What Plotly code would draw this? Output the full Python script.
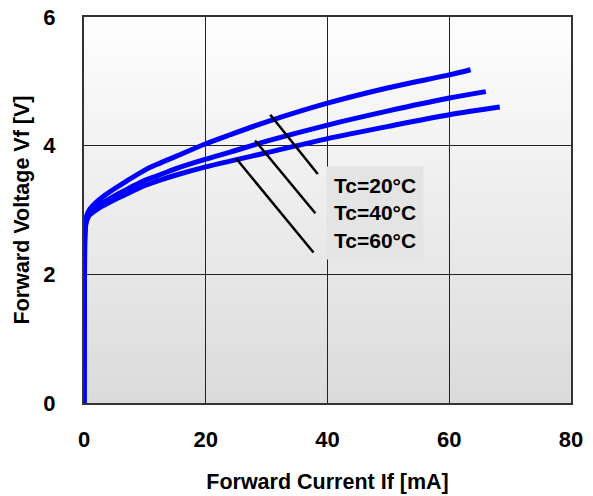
import plotly.graph_objects as go

# ---- data ----
if_20 = [0, 0.1, 0.2, 0.4, 0.7, 1, 2, 3, 5, 7, 10, 12, 15, 20, 24, 30, 40, 50, 60, 63.5]
vf_20 = [0, 2.5, 2.78, 2.9, 2.97, 3.02, 3.12, 3.20, 3.33, 3.45, 3.62, 3.71, 3.83, 4.03, 4.17,
         4.37, 4.66, 4.90, 5.10, 5.18]

if_40 = [0, 0.1, 0.2, 0.4, 0.7, 1, 2, 3, 5, 7, 10, 12, 15, 20, 24, 30, 40, 50, 60, 66]
vf_40 = [0, 2.45, 2.73, 2.85, 2.92, 2.97, 3.05, 3.11, 3.22, 3.32, 3.46, 3.53, 3.64, 3.79, 3.90,
         4.07, 4.32, 4.54, 4.74, 4.84]

if_60 = [0, 0.1, 0.2, 0.4, 0.7, 1, 2, 3, 5, 7, 10, 12, 15, 20, 24, 30, 40, 50, 60, 68.3]
vf_60 = [0, 2.4, 2.7, 2.82, 2.89, 2.93, 3.00, 3.06, 3.16, 3.25, 3.38, 3.45, 3.54, 3.67, 3.76,
         3.89, 4.11, 4.30, 4.48, 4.60]

labels = ["Tc=20°C", "Tc=40°C", "Tc=60°C"]
# leader lines: (x0, y0) on curve -> (x1, y1) near label
leader_x0 = [30.6, 28.1, 25.0]
leader_y0 = [4.48, 4.08, 3.80]
leader_x1 = [38.4, 38.0, 37.7]
leader_y1 = [3.56, 2.95, 2.34]

x_ticks = [0, 20, 40, 60, 80]
y_ticks = [0, 2, 4, 6]

FONT = "Liberation Sans, Arial, sans-serif"

fig = go.Figure()
for xs, ys, name in [(if_20, vf_20, labels[0]), (if_40, vf_40, labels[1]), (if_60, vf_60, labels[2])]:
    fig.add_trace(go.Scatter(x=xs, y=ys, mode="lines", name=name,
                             line=dict(color="#0000FF", width=5, shape="spline", smoothing=0.8)))

# gradient background (white -> light grey)
n = 60
for i in range(n):
    t = (i + 0.5) / n
    c = int(round(254 - (254 - 219) * t))
    fig.add_shape(type="rect", xref="x domain", yref="y domain",
                  x0=0, x1=1, y0=1 - (i + 1) / n, y1=1 - i / n + 0.002,
                  fillcolor=f"rgb({c},{c},{c})", line=dict(width=0), layer="below")

for x0, y0, x1, y1 in zip(leader_x0, leader_y0, leader_x1, leader_y1):
    fig.add_shape(type="line", xref="x", yref="y", x0=x0, y0=y0, x1=x1, y1=y1,
                  line=dict(color="black", width=2.5))

fig.add_annotation(x=39.8, y=3.68, xref="x", yref="y", xanchor="left", yanchor="top",
                   text="<br>".join(labels), showarrow=False, align="left",
                   bgcolor="#e4e4e4", borderpad=7,
                   font=dict(family=FONT, size=21, color="black", weight="bold"))

# the page adds an 8px body margin, so the figure is sized to fill the rest of the window
fig.update_layout(
    width=585, height=488,
    margin=dict(l=76, r=22, t=9, b=93, autoexpand=False),
    paper_bgcolor="white", plot_bgcolor="white",
    showlegend=False,
    font=dict(family=FONT, size=20, color="black", weight="bold"),
)
fig.update_xaxes(range=[0, 80], tickvals=x_ticks, showgrid=True, gridcolor="#222222", gridwidth=1,
                 showline=True, linecolor="#333333", linewidth=2, mirror=True, automargin=False,
                 ticks="", ticklabelstandoff=16, zeroline=False, ticklabeloverflow="allow",
                 tickfont=dict(family=FONT, size=22, weight="bold"),
                 title=dict(text="Forward Current If [mA]", standoff=23,
                            font=dict(family=FONT, size=21.5, weight="bold")))
fig.update_yaxes(range=[0, 6], tickvals=y_ticks, showgrid=True, gridcolor="#222222", gridwidth=1,
                 showline=True, linecolor="#333333", linewidth=2, mirror=True, automargin=False,
                 ticks="", ticklabelstandoff=22, zeroline=False, ticklabeloverflow="allow",
                 tickfont=dict(family=FONT, size=22, weight="bold"),
                 title=dict(text="Forward Voltage Vf [V]", standoff=8,
                            font=dict(family=FONT, size=21.5, weight="bold")))

fig.write_html("out.html")
